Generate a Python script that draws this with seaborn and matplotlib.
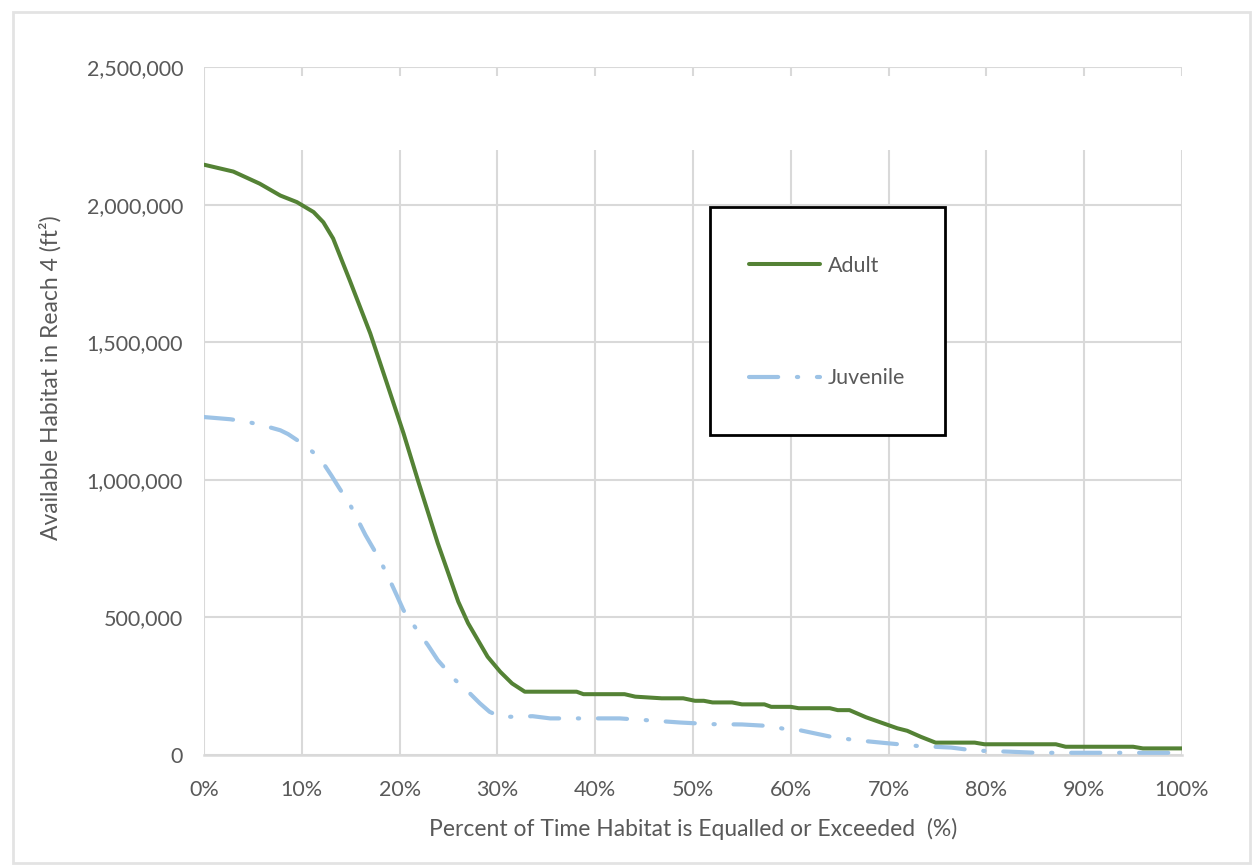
import matplotlib
matplotlib.use("Agg")
import matplotlib.pyplot as plt
import seaborn as sns
import pandas as pd
from matplotlib.patches import Rectangle
from matplotlib.ticker import FuncFormatter

# ---- data ----
adult_pct = [0, 3, 5.7, 7.8, 9.5, 11.2, 12.2, 13.2, 14.9, 17, 18.7, 20.4, 21.9, 23.9, 26, 27, 29,
             30.3, 31.5, 32.8, 38.1, 38.8, 43, 44.1, 46.8, 49, 50.2, 51.1, 52, 54, 55, 57.3, 58, 60,
             60.8, 64, 64.8, 66, 67.7, 69.3, 70.9, 71.9, 73.3, 74.8, 78.8, 79.8, 87.1, 88.1, 95, 96, 100]
adult_val = [2145000, 2120000, 2076000, 2033000, 2009000, 1973000, 1936000, 1877000, 1725000, 1532000,
             1351000, 1169000, 995000, 770000, 557000, 479000, 357000, 302000, 260000, 230000, 230000,
             221000, 221000, 212000, 206000, 206000, 197000, 197000, 191000, 191000, 184000, 184000,
             175000, 175000, 170000, 170000, 163000, 163000, 137000, 117000, 97000, 88000, 66000, 45000,
             45000, 39000, 39000, 30000, 30000, 24000, 24000]

juv_pct = [0, 2.7, 4.5, 6, 7.8, 8.6, 10, 11.3, 12.2, 13, 13.9, 15, 16.5, 18, 19, 19.7, 20.4, 21.9,
           22.9, 23.9, 25.7, 26.9, 28.2, 29.2, 30.3, 32, 33.6, 35.4, 42.5, 45.9, 48.7, 52, 55, 58,
           59.8, 60.8, 64, 66.6, 70.1, 72.9, 76.4, 78.8, 82.4, 85.1, 100]
juv_val = [1228000, 1220000, 1210000, 1198000, 1180000, 1166000, 1133000, 1096000, 1060000, 1017000,
           966000, 905000, 800000, 708000, 635000, 581000, 526000, 448000, 399000, 345000, 272000,
           234000, 188000, 157000, 139000, 139000, 141000, 133000, 133000, 125000, 118000, 112000,
           111000, 105000, 91000, 91000, 67000, 54000, 42000, 33000, 27000, 16000, 12000, 8000, 8000]

series_names = ["Adult", "Juvenile"]
x_ticks = [0, 10, 20, 30, 40, 50, 60, 70, 80, 90, 100]
y_ticks = [0, 500000, 1000000, 1500000, 2000000, 2500000]

x_label = "Percent of Time Habitat is Equalled or Exceeded  (%)"
y_label = "Available Habitat in Reach 4 (ft²)"

# ---- style ----
sns.set_theme(style="white")
plt.rcParams["font.family"] = ["Lato", "DejaVu Sans"]
text_color = "#595959"
grid_color = "#d9d9d9"
adult_color = "#548235"
juv_color = "#9dc3e6"
juv_dash = [7, 4.5, 0.3, 4.5]

df_adult = pd.DataFrame({"pct": adult_pct, "val": adult_val})
df_juv = pd.DataFrame({"pct": juv_pct, "val": juv_val})

fig = plt.figure(figsize=(12.56, 8.67), dpi=100)
fig.patch.set_facecolor("white")
ax = fig.add_axes([204 / 1256, 1 - 755 / 867, (1182 - 204) / 1256, (755 - 67) / 867])

sns.lineplot(data=df_adult, x="pct", y="val", ax=ax, color=adult_color, linewidth=2.9,
             label=series_names[0], zorder=5, sort=False)
sns.lineplot(data=df_juv, x="pct", y="val", ax=ax, color=juv_color, linewidth=3.0,
             label=series_names[1], zorder=4, sort=False)
ax.lines[1].set_dashes(juv_dash)
ax.lines[1].set_dash_capstyle("round")
ax.lines[0].set_solid_capstyle("round")

ax.set_xlim(0, 100)
ax.set_ylim(0, 2500000)
ax.set_xticks(x_ticks)
ax.set_yticks(y_ticks)
ax.xaxis.set_major_formatter(FuncFormatter(lambda v, p: f"{int(round(v))}%"))
ax.yaxis.set_major_formatter(FuncFormatter(lambda v, p: f"{int(v):,}"))
ax.grid(True, color=grid_color, linewidth=1.5, zorder=0)
ax.set_axisbelow(True)
for s in ["top", "right", "left"]:
    ax.spines[s].set_visible(False)
ax.spines["bottom"].set_color(grid_color)
ax.spines["bottom"].set_linewidth(1.8)
ax.tick_params(axis="both", length=0, labelsize=15.5, labelcolor=text_color)
ax.tick_params(axis="x", pad=18)
ax.tick_params(axis="y", pad=15)

ax.set_xlabel(x_label, fontsize=16.5, color=text_color)
ax.set_ylabel(y_label, fontsize=16.5, color=text_color)
ax.xaxis.set_label_coords(0.5, -(829 - 755) / 688)
ax.yaxis.set_label_coords(-(204 - 50) / 978, (755 - 378) / 688)
ax.xaxis.label.set_va("center")
ax.yaxis.label.set_va("center")

# white patch covering the top band (as in the reference)
ax.add_patch(Rectangle((0.004, (755 - 150) / 688), 1.0, (150 - 76) / 688,
                       transform=ax.transAxes, facecolor="white", edgecolor="none",
                       zorder=3, clip_on=False))

# legend box
ax.add_patch(Rectangle(((710 - 204) / 978, (755 - 435) / 688), (945 - 710) / 978, (435 - 207) / 688,
                       transform=ax.transAxes, facecolor="white", edgecolor="black",
                       linewidth=2, zorder=6))
leg = ax.legend(loc="center", bbox_to_anchor=((827 - 204) / 978, (755 - 322) / 688), frameon=False,
                fontsize=15.5, labelspacing=4.3, handlelength=3.3, handletextpad=0.35,
                labelcolor=text_color)
leg.set_zorder(7)
leg.get_lines()[1].set_dashes(juv_dash)
leg.get_lines()[1].set_dash_capstyle("round")

# outer chart frame
fig.patches.append(Rectangle((13 / 1256, 1 - 863 / 867), (1250 - 13) / 1256, (863 - 12) / 867,
                             transform=fig.transFigure, facecolor="none", edgecolor="#e3e3e3",
                             linewidth=2, zorder=0))

fig.savefig("out.png", dpi=100)
